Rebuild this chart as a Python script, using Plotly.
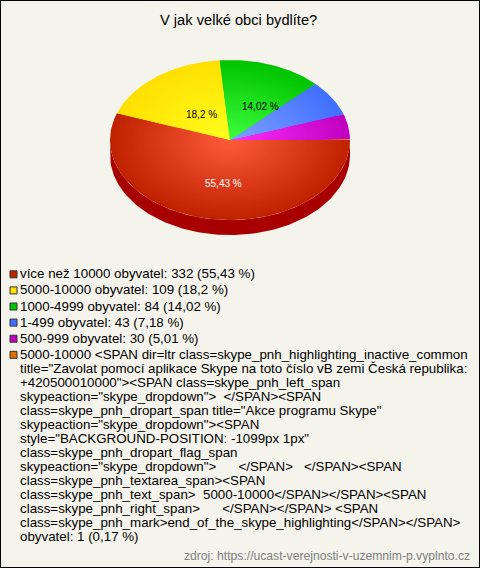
import numpy as np
import plotly.graph_objects as go

# --- data ---
title = "V jak velké obci bydlíte?"
values = [332, 109, 84, 43, 30, 1]
percent_labels = ["55,43 %", "18,2 %", "14,02 %", "7,18 %", "5,01 %", "0,17 %"]
legend_items = [
    ["více než 10000 obyvatel: 332 (55,43 %)"],
    ["5000-10000 obyvatel: 109 (18,2 %)"],
    ["1000-4999 obyvatel: 84 (14,02 %)"],
    ["1-499 obyvatel: 43 (7,18 %)"],
    ["500-999 obyvatel: 30 (5,01 %)"],
    [
        '5000-10000 <SPAN dir=ltr class=skype_pnh_highlighting_inactive_common',
        'title="Zavolat pomocí aplikace Skype na toto číslo vB zemi Česká republika:',
        '+420500010000"><SPAN class=skype_pnh_left_span',
        'skypeaction="skype_dropdown">  </SPAN><SPAN',
        'class=skype_pnh_dropart_span title="Akce programu Skype"',
        'skypeaction="skype_dropdown"><SPAN',
        'style="BACKGROUND-POSITION: -1099px 1px"',
        'class=skype_pnh_dropart_flag_span',
        'skypeaction="skype_dropdown">      </SPAN>   </SPAN><SPAN',
        'class=skype_pnh_textarea_span><SPAN',
        'class=skype_pnh_text_span>  5000-10000</SPAN></SPAN><SPAN',
        'class=skype_pnh_right_span>      </SPAN></SPAN> <SPAN',
        'class=skype_pnh_mark>end_of_the_skype_highlighting</SPAN></SPAN>',
        'obyvatel: 1 (0,17 %)',
    ],
]
source = "zdroj: https://ucast-verejnosti-v-uzemnim-p.vyplnto.cz"

# --- styles ---
BG = "#f5f4ec"
edge_colors = [(192, 34, 0), (255, 224, 0), (0, 196, 0), (64, 112, 255), (192, 0, 192), (224, 112, 0)]
center_colors = [(255, 92, 60), (255, 255, 32), (64, 255, 64), (128, 160, 255), (255, 48, 255), (255, 144, 48)]
side_colors = ["#a80000", "#b09800", "#008000", "#2040b0", "#800080", "#a05000"]
label_colors = ["white", "black", "black", None, None, None]
label_shift = [(5, 0), (12, 9), (8, 8), (0, 0), (0, 0), (0, 0)]
CX, CY, RX, RY, DEPTH = 230, 140, 120, 80, 15
STEPS = 36

fracs = np.array(values, float) / sum(values)
ends = np.cumsum(fracs) * 2 * np.pi
starts = ends - fracs * 2 * np.pi


def rgb(c):
    return "rgb(%d,%d,%d)" % tuple(int(round(v)) for v in c)


def esc(s):
    s = s.replace("<", "&lt;")
    return s.replace(" ", "\u00a0") if "  " in s else s


fig = go.Figure()


def poly(xs, ys, color):
    fig.add_trace(go.Scatter(x=xs, y=ys, mode="lines", fill="toself", fillcolor=color,
                             line=dict(width=0, color=color), hoverinfo="skip", showlegend=False))


# side wall
for s, e, col in zip(starts, ends, side_colors):
    a0, a1 = s, min(e, np.pi)
    if a1 > a0:
        t = np.linspace(a0, a1, 120)
        x = CX + RX * np.cos(t)
        y = CY + RY * np.sin(t)
        poly(np.r_[x, x[::-1]], np.r_[y, (y + DEPTH)[::-1]], col)

# top face with radial shading
for k in range(STEPS):
    f = 1 - k / STEPS
    for s, e, c0, c1 in zip(starts, ends, edge_colors, center_colors):
        t = np.linspace(s, e, max(3, int((e - s) * 60)))
        x = CX + f * RX * np.cos(t)
        y = CY + f * RY * np.sin(t)
        mix = np.array(c1) + (np.array(c0) - np.array(c1)) * f
        poly(np.r_[CX, x, CX], np.r_[CY, y, CY], rgb(mix))

ann = []
F = "Liberation Sans, Arial, sans-serif"
for s, e, lab, col, sh in zip(starts, ends, percent_labels, label_colors, label_shift):
    if col:
        m = (s + e) / 2
        ann.append(dict(x=CX + 0.55 * RX * np.cos(m), y=CY + 0.55 * RY * np.sin(m), text=lab,
                        showarrow=False, xshift=sh[0], yshift=-sh[1],
                        font=dict(family=F, size=10, color=col)))

ann.append(dict(x=238.5, y=20, text=title, showarrow=False, font=dict(family=F, size=14.67, color="black")))

# legend
y = 273.8
mx, my, mc = [], [], []
for item, c in zip(legend_items, edge_colors):
    mx.append(13.5)
    my.append(y + 0.5)
    mc.append(rgb(c))
    for i, line in enumerate(item):
        ann.append(dict(x=20, y=y + 14 * i, xanchor="left", text=esc(line),
                        showarrow=False, font=dict(family=F, size=13.33, color="black"),
                        borderpad=0, borderwidth=0))
    y += 16.1 if len(item) == 1 else 0

fig.add_trace(go.Scatter(x=mx, y=my, mode="markers", hoverinfo="skip", showlegend=False,
                         marker=dict(symbol="square", size=7, color=mc, line=dict(width=1, color="#333333"))))

ann.append(dict(x=471.5, y=556, xanchor="right", text=source, showarrow=False,
                font=dict(family=F, size=12.15, color="#808080")))

fig.update_layout(
    width=480, height=568, margin=dict(l=0, r=0, t=0, b=0),
    paper_bgcolor=BG, plot_bgcolor=BG, showlegend=False, annotations=ann,
    xaxis=dict(range=[0, 480], visible=False, fixedrange=True),
    yaxis=dict(range=[568, 0], visible=False, fixedrange=True),
    shapes=[dict(type="rect", xref="paper", yref="paper", x0=0, y0=0, x1=1, y1=1,
                 line=dict(color="black", width=2), fillcolor="rgba(0,0,0,0)")],
)
fig.write_html("out.html", config=dict(displayModeBar=False, staticPlot=True),
               post_script="document.body.style.margin='0';document.body.style.overflow='hidden';")
